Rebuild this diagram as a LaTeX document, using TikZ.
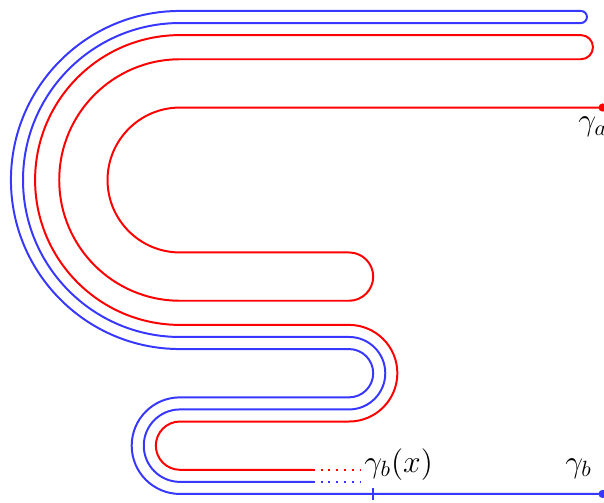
\documentclass[tikz,border=0pt]{standalone}
\definecolor{cred}{RGB}{255,0,0}
\definecolor{cblue}{RGB}{55,55,255}
\begin{document}
\begin{tikzpicture}[x=10.98pt,y=10.98pt,
  curve/.style={line width=0.9pt},
  redc/.style={curve,draw=cred},
  bluec/.style={curve,draw=cblue},
  dotline/.style={dash pattern=on 0.9pt off 2.65pt},
  lbl/.style={inner sep=0pt,anchor=base west,font=\fontsize{14}{16}\selectfont}]
\useasboundingbox (-7.453,-13.333) rectangle (17.557,7.453);
% red curve
\coordinate (ra) at (17.5,3);
\coordinate (re) at (5.5,-12);
\coordinate (rd) at (7.5,-12);
\draw[redc] (ra) -- (0,3) arc (90:270:3) -- (7,-3) arc (90:-90:1)
  -- (0,-5) arc (270:90:5) -- (16.6,5) arc (-90:90:0.5)
  -- (0,6) arc (90:270:6) -- (7,-6) arc (90:-90:2)
  -- (0,-10) arc (90:270:1) -- (re);
\draw[redc,dotline] (re) -- (rd);
\fill[cred] (ra) circle (0.17);
% blue curve
\coordinate (ba) at (17.5,-13);
\coordinate (be) at (5.5,-12.5);
\coordinate (bd) at (7.5,-12.5);
\draw[bluec] (ba) -- (0,-13) arc (270:90:2) -- (7,-9) arc (-90:90:1)
  -- (0,-7) arc (270:90:7) -- (16.6,7) arc (90:-90:0.25)
  -- (0,6.5) arc (90:270:6.5) -- (7,-6.5) arc (90:-90:1.5)
  -- (0,-9.5) arc (90:270:1.5) -- (be);
\draw[bluec,dotline] (be) -- (bd);
\fill[cblue] (ba) circle (0.17);
% tick
\coordinate (t1) at (8,-12.75);
\coordinate (t2) at (8,-13.25);
\draw[bluec] (t1) -- (t2);
% labels
\node[lbl] (la) at (16.48,2.03) {$\gamma_a$};
\node[lbl] (lx) at (7.62,-12.1) {$\gamma_b(x)$};
\node[lbl] (lb) at (15.94,-12.1) {$\gamma_b$};
\end{tikzpicture}
\end{document}
